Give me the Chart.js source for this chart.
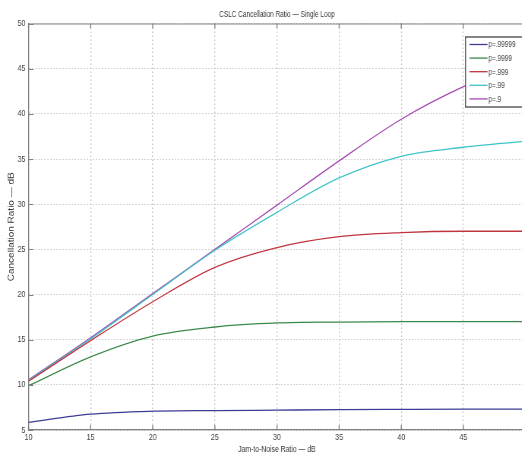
<!DOCTYPE html>
<html>
<head>
<meta charset="utf-8">
<script src="https://cdn.jsdelivr.net/npm/chart.js@4.4.1/dist/chart.umd.min.js"></script>
<style>
  html, body { margin: 0; padding: 0; background: #fff; overflow: hidden; }
  #wrap { width: 522px; height: 455px; overflow: hidden; }
  canvas { display: block; }
</style>
</head>
<body>
<div id="wrap"><canvas id="chart"></canvas></div>
<script>
// Jam-to-noise ratio (dB) on the x axis
const jnr = [10, 15, 20, 25, 30, 35, 40, 45, 50];

// Cancellation ratio (dB) for each loop coefficient p
const p99999 = [5.85, 6.75, 7.08, 7.15, 7.2, 7.25, 7.28, 7.3, 7.3];
const p9999 = [9.9, 13.1, 15.4, 16.4, 16.85, 16.95, 17.0, 17.0, 17.0];
const p999 = [10.4, 14.9, 19.2, 23.0, 25.2, 26.4, 26.85, 27.0, 27.0];
const p99 = [10.5, 15.1, 20.0, 24.9, 29.1, 32.9, 35.3, 36.3, 36.95];
const p9 = [10.55, 15.2, 20.1, 25.0, 29.9, 34.8, 39.4, 43.0, 45.8];

const seriesLabels = ["p=.99999", "p=.9999", "p=.999", "p=.99", "p=.9"];
const seriesColors = ["#3c3c96", "#3a8a46", "#c0343e", "#3cc4c8", "#a448b0"];
const seriesValues = [p99999, p9999, p999, p99, p9];

const xTicks = [10, 15, 20, 25, 30, 35, 40, 45, 50];
const yTicks = [5, 10, 15, 20, 25, 30, 35, 40, 45, 50];

const titleText = "CSLC Cancellation Ratio \u2014 Single Loop";
const xTitle = "Jam-to-Noise Ratio \u2014 dB";
const yTitle = "Cancellation Ratio \u2014 dB";

const FONT = "'Liberation Sans', Arial, sans-serif";
const AXIS_COLOR = "#808080";

// the original figure is squeezed sideways, so the canvas is drawn wider
// and shown at a narrower CSS width (its right end is cut off by the window)
const SX = 0.76;
const CSS_W = 531;
const CSS_H = 455;
const canvas = document.getElementById("chart");
canvas.width = Math.round(CSS_W / SX);
canvas.height = CSS_H;
canvas.style.width = CSS_W + "px";
canvas.style.height = CSS_H + "px";

// turn the arrays into {x, y} points for Chart.js
function toPoints(values) {
  return values.map((v, i) => ({ x: jnr[i], y: v }));
}

const datasets = seriesValues.map((vals, i) => ({
  label: seriesLabels[i],
  data: toPoints(vals),
  borderColor: seriesColors[i],
  backgroundColor: seriesColors[i],
  borderWidth: 1.3,
  pointRadius: 0,
  fill: false,
  cubicInterpolationMode: "monotone"
}));

// MATLAB-ish extras: title over the plot, box, inward ticks, boxed legend
const matlabDecor = {
  id: "matlabDecor",
  afterDatasetsDraw(chart) {
    const { ctx, chartArea: a, scales } = chart;
    ctx.save();

    // top border of the axes box
    ctx.strokeStyle = AXIS_COLOR;
    ctx.lineWidth = 1;
    ctx.beginPath();
    ctx.moveTo(a.left, a.top + 0.5);
    ctx.lineTo(a.right, a.top + 0.5);
    ctx.stroke();

    // inward tick marks
    const tl = 5;
    ctx.lineWidth = 1.3;
    ctx.beginPath();
    xTicks.forEach((t) => {
      const px = scales.x.getPixelForValue(t);
      ctx.moveTo(px, a.bottom);
      ctx.lineTo(px, a.bottom - tl);
      ctx.moveTo(px, a.top);
      ctx.lineTo(px, a.top + tl);
    });
    ctx.stroke();
    ctx.lineWidth = 1;
    ctx.beginPath();
    yTicks.forEach((t) => {
      const py = Math.round(scales.y.getPixelForValue(t)) + 0.5;
      ctx.moveTo(a.left, py);
      ctx.lineTo(a.left + tl / SX, py);
    });
    ctx.stroke();

    // legend box in the upper right corner
    const lx = a.right - 60 / SX;
    const ly = a.top + 13;
    const lw = 62 / SX;
    const lh = 70;
    ctx.fillStyle = "#fff";
    ctx.fillRect(lx, ly, lw, lh);
    ctx.strokeStyle = "#444";
    ctx.lineWidth = 1.3;
    ctx.strokeRect(lx, ly + 0.5, lw, lh);
    ctx.font = "8.5px " + FONT;
    ctx.textBaseline = "middle";
    ctx.textAlign = "left";
    chart.data.datasets.forEach((ds, i) => {
      const ry = ly + 8 + i * 13.6;
      ctx.strokeStyle = ds.borderColor;
      ctx.lineWidth = 1.3;
      ctx.beginPath();
      ctx.moveTo(lx + 4 / SX, ry);
      ctx.lineTo(lx + 22 / SX, ry);
      ctx.stroke();
      ctx.fillStyle = "#444";
      ctx.fillText(ds.label, lx + 23 / SX, ry + 0.5);
    });

    // title centred over the plot area
    ctx.font = "8.5px " + FONT;
    ctx.fillStyle = "#333";
    ctx.textAlign = "center";
    ctx.fillText(titleText, (a.left + a.right) / 2, 15);

    ctx.restore();
  }
};

new Chart(canvas, {
  type: "line",
  data: { datasets: datasets },
  options: {
    responsive: false,
    animation: false,
    layout: { padding: { top: 23.5, right: 2.5 / SX, left: 0, bottom: 0 } },
    plugins: {
      legend: { display: false },
      title: { display: false },
      tooltip: { enabled: false }
    },
    scales: {
      x: {
        type: "linear",
        min: 10,
        max: 50,
        afterFit: (s) => { s.height = 25; },
        afterBuildTicks: (s) => { s.ticks = xTicks.map((v) => ({ value: v })); },
        ticks: {
          font: { family: FONT, size: 9.5 },
          color: "#444",
          padding: 2,
          maxRotation: 0
        },
        grid: { color: "#c0c0c0", drawTicks: false, lineWidth: 1.3 },
        border: { color: AXIS_COLOR, width: 1.3, dash: [1.5, 2.5] },
        title: {
          display: true,
          text: xTitle,
          font: { family: FONT, size: 9 },
          color: "#333",
          padding: { top: 0, bottom: 0 }
        }
      },
      y: {
        min: 5,
        max: 50,
        afterFit: (s) => { s.width = 28.5 / SX; },
        afterBuildTicks: (s) => { s.ticks = yTicks.map((v) => ({ value: v })); },
        ticks: {
          font: { family: FONT, size: 9.5 },
          color: "#444",
          padding: 4
        },
        grid: { color: "#c0c0c0", drawTicks: false, lineWidth: 1 },
        border: { color: AXIS_COLOR, width: 1.3, dash: [1.5, 2.5] },
        title: {
          display: true,
          text: yTitle,
          font: { family: FONT, size: 10 },
          color: "#333",
          padding: { top: 10 / SX - 4, bottom: 0 }
        }
      }
    }
  },
  plugins: [matlabDecor]
});
</script>
</body>
</html>
